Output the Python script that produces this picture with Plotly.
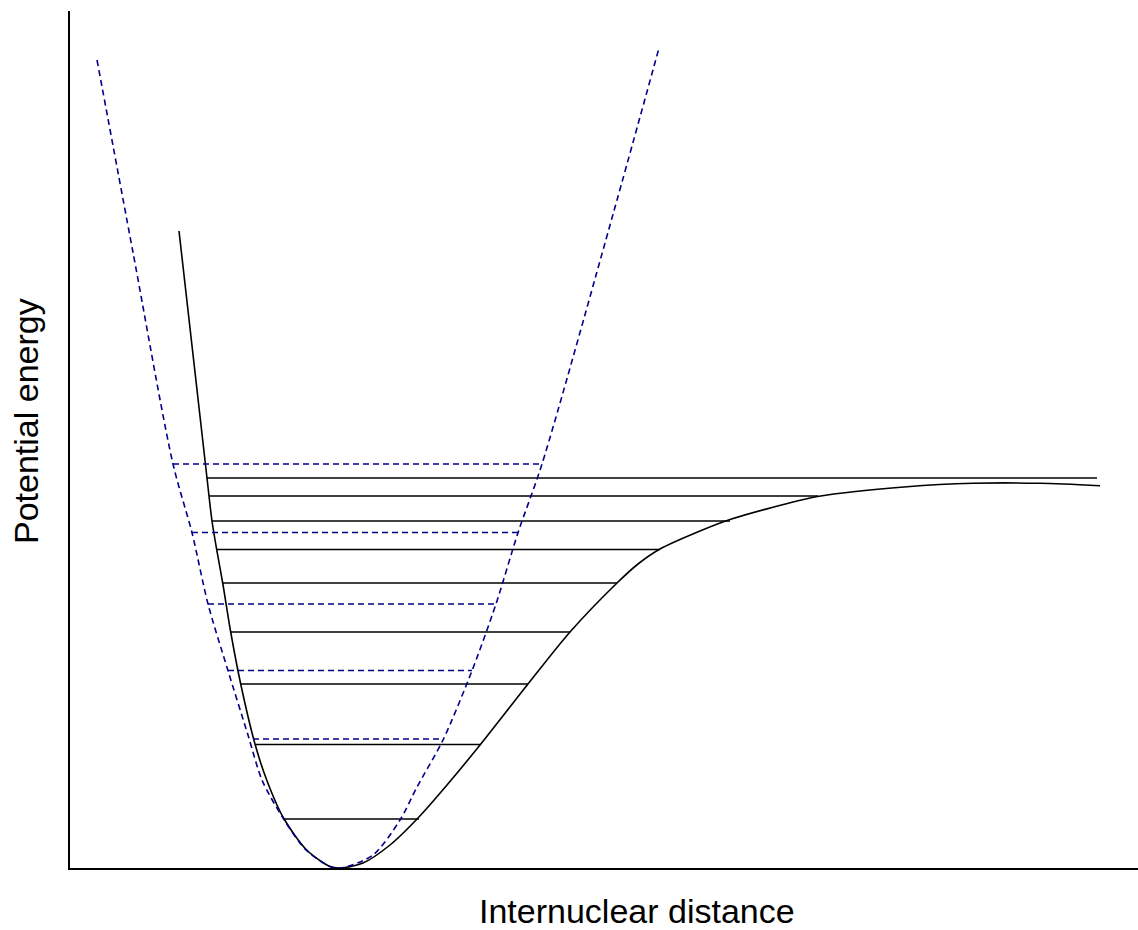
import plotly.graph_objects as go

# Anharmonic (Morse-like) potential curve, arbitrary units
morse_r = [1.09, 1.37, 1.39, 1.42, 1.467, 1.527, 1.607, 1.707, 1.85, 1.967, 2.135, 2.367,
           2.60, 2.70, 2.93, 3.20, 3.48, 3.77, 4.10, 4.58, 5.00, 5.47, 5.68, 5.90, 6.30,
           6.60, 7.49, 8.37, 9.03, 9.70, 10.30]
morse_v = [6.37, 3.90, 3.72, 3.47, 3.183, 2.85, 2.36, 1.84, 1.24, 0.88, 0.50, 0.18,
           0.015, 0.0, 0.05, 0.23, 0.50, 0.83, 1.23, 1.84, 2.36, 2.85, 3.04, 3.19, 3.37,
           3.485, 3.717, 3.813, 3.847, 3.847, 3.823]

# Harmonic approximation
harm_r = [0.27, 0.633, 1.03, 1.22, 1.38, 1.58, 1.78, 1.92, 2.13, 2.36, 2.60, 2.71,
          3.03, 3.30, 3.47, 3.73, 4.02, 4.26, 4.48, 4.72, 5.433, 5.89]
harm_v = [8.08, 6.14, 4.04, 3.353, 2.64, 1.973, 1.33, 0.88, 0.50, 0.18, 0.015, 0.0,
          0.13, 0.48, 0.81, 1.28, 1.973, 2.64, 3.353, 4.04, 6.547, 8.20]

# Vibrational levels of the anharmonic well: energy, inner and outer turning points
morse_level_e = [0.49, 1.235, 1.84, 2.36, 2.85, 3.185, 3.47, 3.72, 3.90]
morse_level_left = [2.14, 1.855, 1.707, 1.607, 1.527, 1.467, 1.42, 1.39, 1.367]
morse_level_right = [3.49, 4.11, 4.58, 5.00, 5.47, 5.90, 6.60, 7.48, 10.27]

# Vibrational levels of the harmonic well
harm_level_e = [1.29, 1.975, 2.64, 3.355, 4.04]
harm_level_left = [1.83, 1.58, 1.38, 1.22, 1.03]
harm_level_right = [3.73, 4.02, 4.26, 4.48, 4.72]

NAVY = "#00008B"


def segments(levels, left, right):
    xs, ys = [], []
    for e, a, b in zip(levels, left, right):
        xs += [a, b, None]
        ys += [e, e, None]
    return xs, ys


fig = go.Figure()

mx, my = segments(morse_level_e, morse_level_left, morse_level_right)
fig.add_trace(go.Scatter(x=mx, y=my, mode="lines",
                         line=dict(color="black", width=1.6), hoverinfo="skip"))

fig.add_trace(go.Scatter(x=morse_r, y=morse_v, mode="lines",
                         line=dict(color="black", width=1.6, shape="spline", smoothing=0.8),
                         hoverinfo="skip"))

hx, hy = segments(harm_level_e, harm_level_left, harm_level_right)
fig.add_trace(go.Scatter(x=hx, y=hy, mode="lines",
                         line=dict(color=NAVY, width=1.6, dash="6px,4px"), hoverinfo="skip"))

fig.add_trace(go.Scatter(x=harm_r, y=harm_v, mode="lines",
                         line=dict(color=NAVY, width=1.6, dash="6px,4px",
                                   shape="spline", smoothing=0.8),
                         hoverinfo="skip"))

axis_common = dict(showgrid=False, zeroline=False, showticklabels=False, ticks="",
                   showline=True, linecolor="black", linewidth=2, fixedrange=True)

fig.update_layout(
    width=1138, height=930,
    margin=dict(l=70, r=0, t=11, b=62),
    paper_bgcolor="white", plot_bgcolor="white",
    showlegend=False,
    font=dict(family="Liberation Sans, Arial, sans-serif", color="black"),
    xaxis=dict(range=[0, 10.68], **axis_common),
    yaxis=dict(range=[0, 8.57], **axis_common),
    annotations=[
        dict(text="Internuclear distance", xref="paper", yref="paper",
             x=(637 - 70) / 1068, y=-(911 - 868) / 857, xanchor="center", yanchor="middle",
             showarrow=False, font=dict(size=34)),
        dict(text="Potential energy", xref="paper", yref="paper",
             x=-(70 - 26) / 1068, y=(868 - 421) / 857, xanchor="center", yanchor="middle",
             textangle=-90, showarrow=False, font=dict(size=34)),
    ],
)

fig.write_html("out.html")
